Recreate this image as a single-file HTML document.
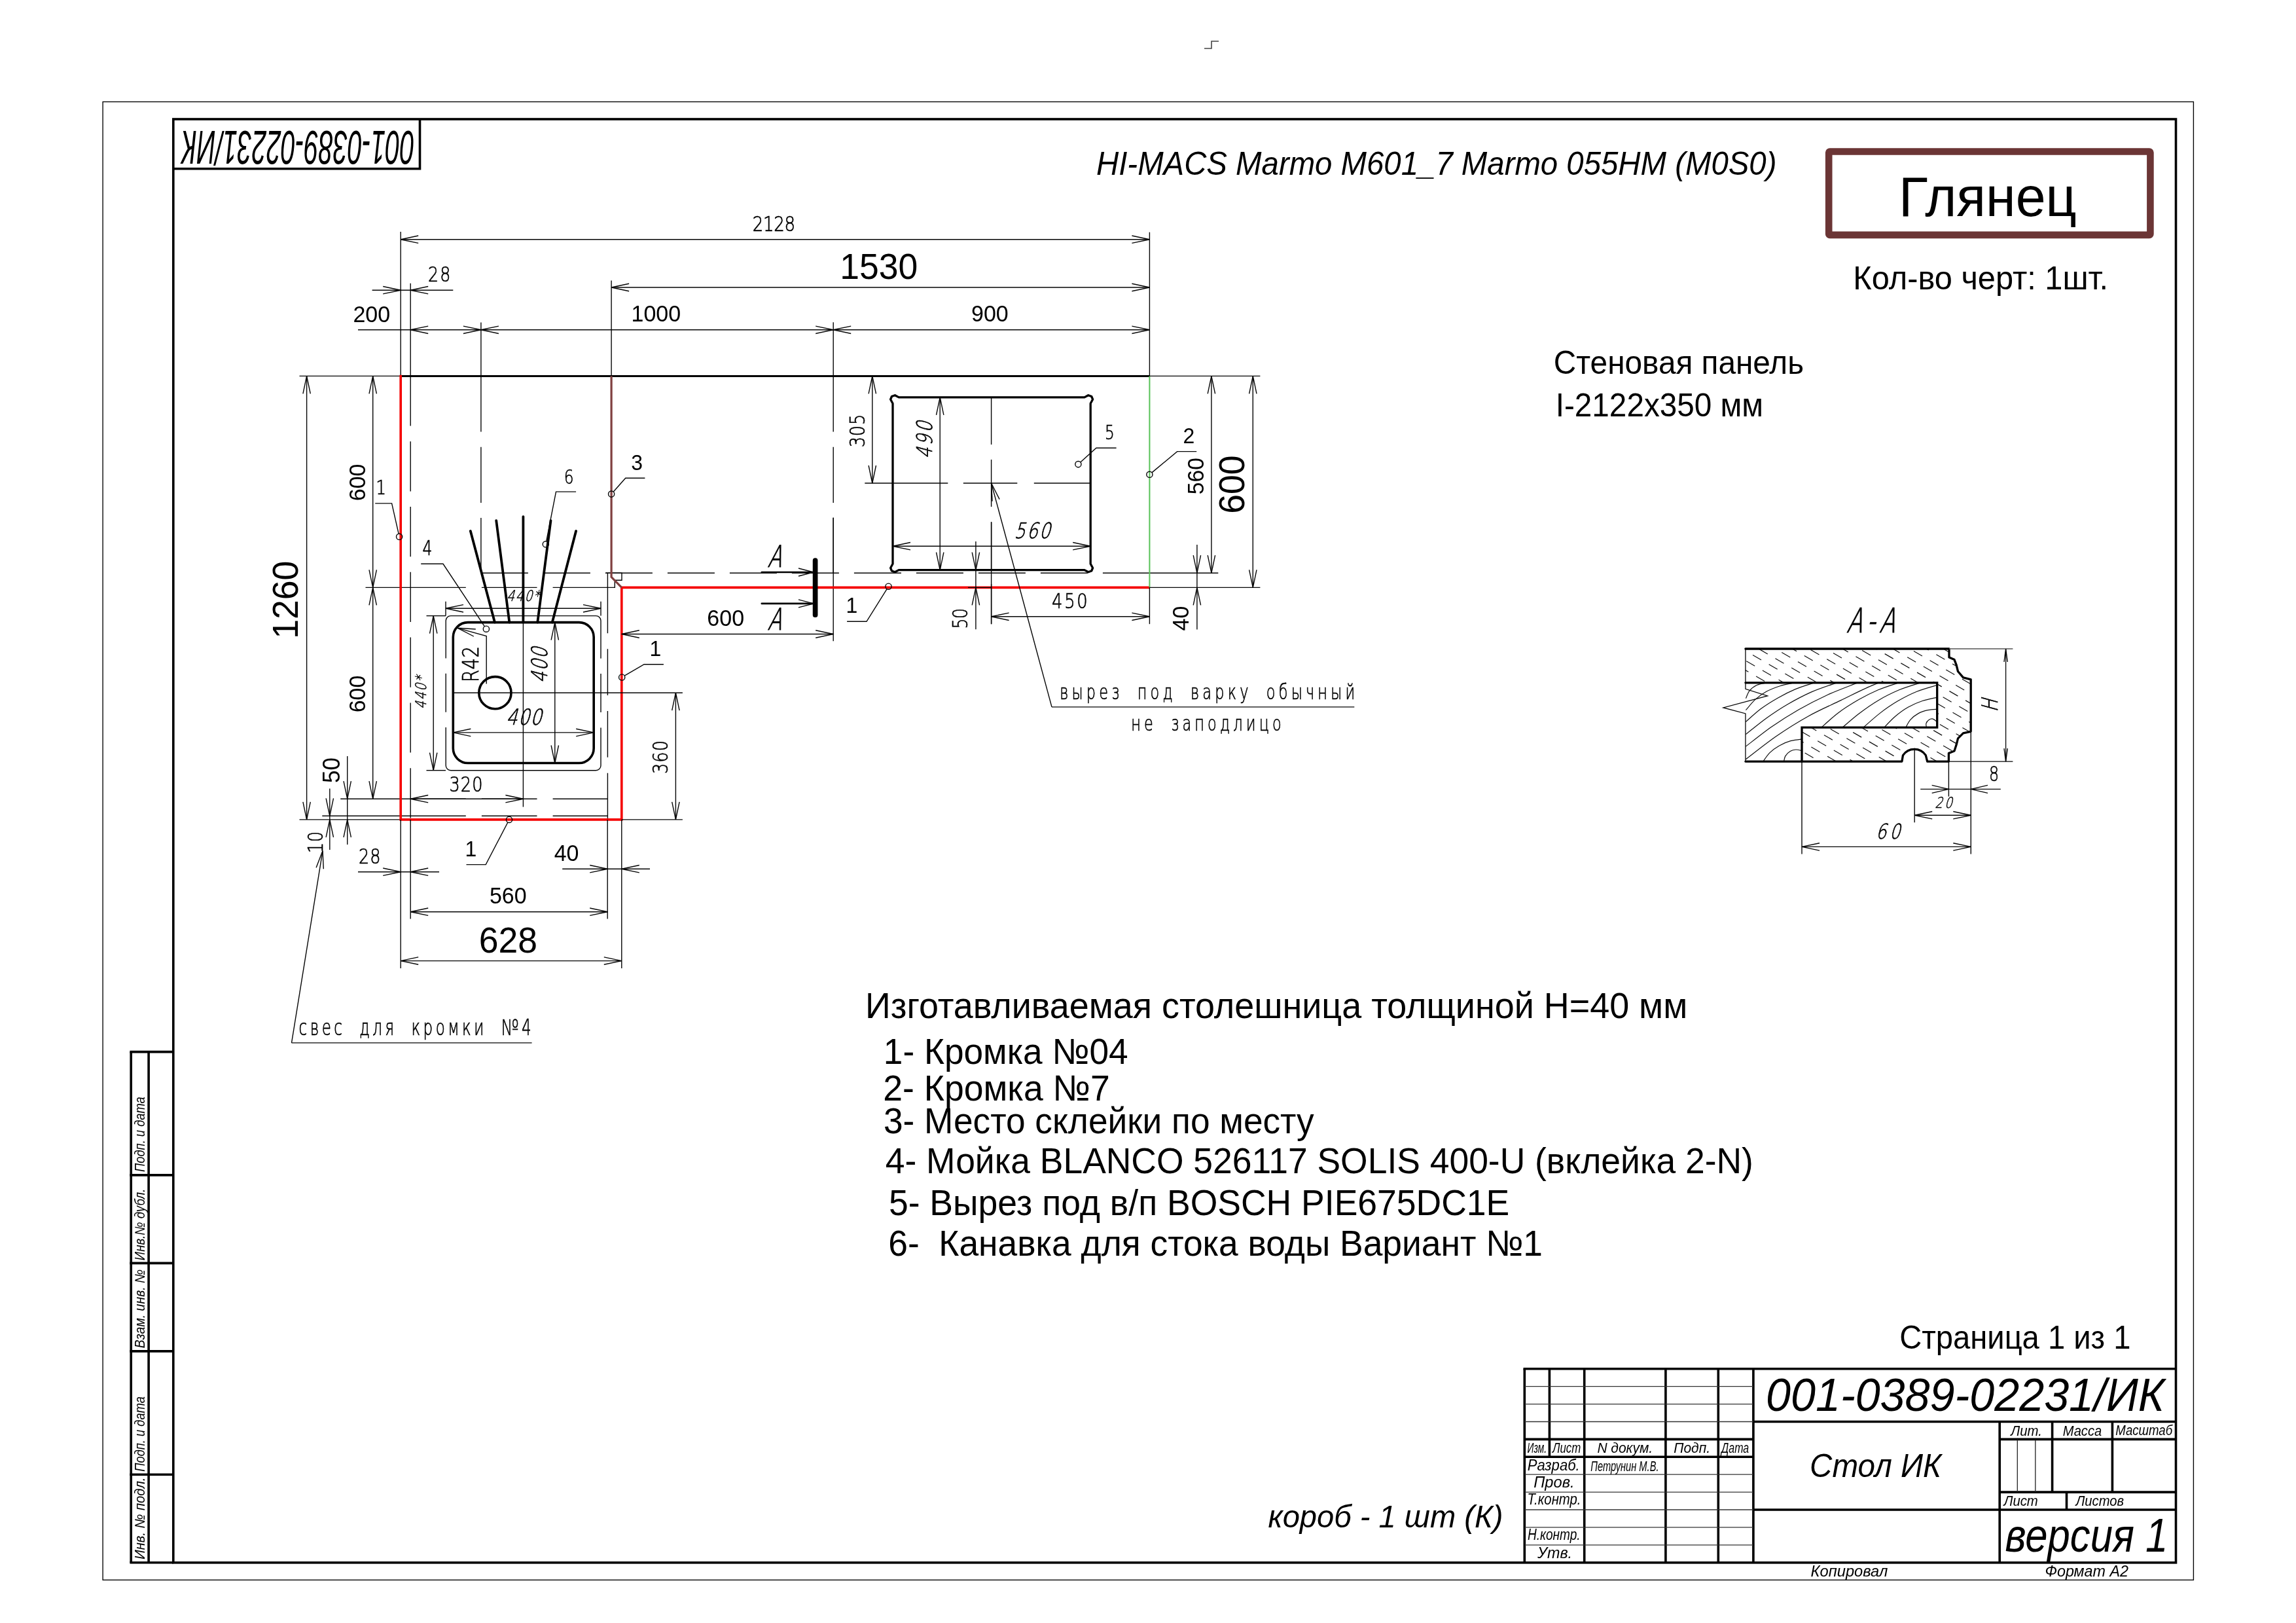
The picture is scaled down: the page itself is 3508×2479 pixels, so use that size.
<!DOCTYPE html>
<html lang="ru"><head><meta charset="utf-8"><title>001-0389-02231/ИК</title>
<style>html,body{margin:0;padding:0;background:#fff}svg{display:block;will-change:transform}</style></head>
<body>
<svg width="3508" height="2479" viewBox="0 0 3508 2479">
<rect width="3508" height="2479" fill="#fff"/>
<rect x="157.1" y="155.5" width="3194.3" height="2257.8" fill="none" stroke="#000" stroke-width="1.35"/>
<rect x="264.8" y="182" width="3059.7" height="2204.8" fill="none" stroke="#000" stroke-width="3.6"/>
<path d="M1840.0,74.0 L1851.0,74.0 L1851.0,63.0 L1862.0,63.0" fill="none" stroke="#444" stroke-width="1.6" stroke-linejoin="miter"/>
<path d="M641.5,182.0 L641.5,257.8 L264.8,257.8" fill="none" stroke="#000" stroke-width="3.6" stroke-linejoin="miter"/>
<g transform="translate(455.3,225) rotate(180)">
<text transform="translate(0.0,25.0) rotate(0)" x="0.0" text-anchor="middle" style="font-family:Liberation Sans, Arial, sans-serif;font-size:72.80px;font-style:italic;" fill="#000" textLength="355.9" lengthAdjust="spacingAndGlyphs" xml:space="preserve">001-0389-02231/ИК</text>
</g>
<line x1="200.2" y1="1606.6" x2="200.2" y2="2386.8" stroke="#000" stroke-width="3.6"/>
<line x1="227.1" y1="1606.6" x2="227.1" y2="2386.8" stroke="#000" stroke-width="3.6"/>
<line x1="198.4" y1="1606.6" x2="264.8" y2="1606.6" stroke="#000" stroke-width="3.6"/>
<line x1="198.4" y1="1794.9" x2="264.8" y2="1794.9" stroke="#000" stroke-width="3.6"/>
<line x1="198.4" y1="1929.4" x2="264.8" y2="1929.4" stroke="#000" stroke-width="3.6"/>
<line x1="198.4" y1="2063.9" x2="264.8" y2="2063.9" stroke="#000" stroke-width="3.6"/>
<line x1="198.4" y1="2252.2" x2="264.8" y2="2252.2" stroke="#000" stroke-width="3.6"/>
<line x1="198.4" y1="2386.8" x2="264.8" y2="2386.8" stroke="#000" stroke-width="3.6"/>
<text transform="translate(221.2,1789.5) rotate(-90)" x="-0.5" text-anchor="start" style="font-family:Liberation Sans, Arial, sans-serif;font-size:21.42px;font-style:italic;" fill="#000" textLength="114.7" lengthAdjust="spacingAndGlyphs" xml:space="preserve">Подп. и дата</text>
<text transform="translate(221.2,1924.6) rotate(-90)" x="-0.6" text-anchor="start" style="font-family:Liberation Sans, Arial, sans-serif;font-size:21.42px;font-style:italic;" fill="#000" textLength="109.4" lengthAdjust="spacingAndGlyphs" xml:space="preserve">Инв.№ дубл.</text>
<text transform="translate(221.2,2058.6) rotate(-90)" x="-0.6" text-anchor="start" style="font-family:Liberation Sans, Arial, sans-serif;font-size:21.42px;font-style:italic;" fill="#000" textLength="120.4" lengthAdjust="spacingAndGlyphs" xml:space="preserve">Взам. инв. №</text>
<text transform="translate(221.2,2247.3) rotate(-90)" x="-0.5" text-anchor="start" style="font-family:Liberation Sans, Arial, sans-serif;font-size:21.42px;font-style:italic;" fill="#000" textLength="114.7" lengthAdjust="spacingAndGlyphs" xml:space="preserve">Подп. и дата</text>
<text transform="translate(221.2,2381.1) rotate(-90)" x="-0.6" text-anchor="start" style="font-family:Liberation Sans, Arial, sans-serif;font-size:21.42px;font-style:italic;" fill="#000" textLength="125.1" lengthAdjust="spacingAndGlyphs" xml:space="preserve">Инв. № подл.</text>
<line x1="2327.5" y1="2090.8" x2="3324.5" y2="2090.8" stroke="#000" stroke-width="3.6"/>
<line x1="2329.3" y1="2090.8" x2="2329.3" y2="2386.7" stroke="#000" stroke-width="3.6"/>
<line x1="2367.4" y1="2090.8" x2="2367.4" y2="2225.3" stroke="#000" stroke-width="3.6"/>
<line x1="2420.7" y1="2090.8" x2="2420.7" y2="2386.7" stroke="#000" stroke-width="3.6"/>
<line x1="2544.9" y1="2090.8" x2="2544.9" y2="2386.7" stroke="#000" stroke-width="3.6"/>
<line x1="2625.3" y1="2090.8" x2="2625.3" y2="2386.7" stroke="#000" stroke-width="3.6"/>
<line x1="2678.9" y1="2090.8" x2="2678.9" y2="2386.7" stroke="#000" stroke-width="3.6"/>
<line x1="3055.2" y1="2171.5" x2="3055.2" y2="2386.7" stroke="#000" stroke-width="3.6"/>
<line x1="2329.3" y1="2117.7" x2="2678.9" y2="2117.7" stroke="#333" stroke-width="1.3"/>
<line x1="2329.3" y1="2144.6" x2="2678.9" y2="2144.6" stroke="#333" stroke-width="1.3"/>
<line x1="2329.3" y1="2171.5" x2="2678.9" y2="2171.5" stroke="#333" stroke-width="1.3"/>
<line x1="2329.3" y1="2252.2" x2="2678.9" y2="2252.2" stroke="#333" stroke-width="1.3"/>
<line x1="2329.3" y1="2279.1" x2="2678.9" y2="2279.1" stroke="#333" stroke-width="1.3"/>
<line x1="2329.3" y1="2306.0" x2="2678.9" y2="2306.0" stroke="#333" stroke-width="1.3"/>
<line x1="2329.3" y1="2332.9" x2="2678.9" y2="2332.9" stroke="#333" stroke-width="1.3"/>
<line x1="2329.3" y1="2359.8" x2="2678.9" y2="2359.8" stroke="#333" stroke-width="1.3"/>
<line x1="2329.3" y1="2198.4" x2="2678.9" y2="2198.4" stroke="#000" stroke-width="3.6"/>
<line x1="2329.3" y1="2225.3" x2="2678.9" y2="2225.3" stroke="#000" stroke-width="3.6"/>
<line x1="2678.9" y1="2171.5" x2="3324.5" y2="2171.5" stroke="#000" stroke-width="3.6"/>
<line x1="2678.9" y1="2306.0" x2="3324.5" y2="2306.0" stroke="#000" stroke-width="3.6"/>
<line x1="3055.2" y1="2198.4" x2="3324.5" y2="2198.4" stroke="#000" stroke-width="3.6"/>
<line x1="3055.2" y1="2279.1" x2="3324.5" y2="2279.1" stroke="#000" stroke-width="3.6"/>
<line x1="3135.6" y1="2171.5" x2="3135.6" y2="2279.1" stroke="#000" stroke-width="3.6"/>
<line x1="3227.4" y1="2171.5" x2="3227.4" y2="2279.1" stroke="#000" stroke-width="3.6"/>
<line x1="3157.5" y1="2279.1" x2="3157.5" y2="2306.0" stroke="#000" stroke-width="3.6"/>
<line x1="3082.3" y1="2198.4" x2="3082.3" y2="2279.1" stroke="#222" stroke-width="1.3"/>
<line x1="3109.8" y1="2198.4" x2="3109.8" y2="2279.1" stroke="#222" stroke-width="1.3"/>
<text transform="translate(2334.0,2218.6) rotate(0)" x="-0.4" text-anchor="start" style="font-family:Liberation Sans, Arial, sans-serif;font-size:21.53px;font-style:italic;" fill="#000" textLength="29.5" lengthAdjust="spacingAndGlyphs" xml:space="preserve">Изм.</text>
<text transform="translate(2371.0,2218.6) rotate(0)" x="0.9" text-anchor="start" style="font-family:Liberation Sans, Arial, sans-serif;font-size:21.53px;font-style:italic;" fill="#000" textLength="43.3" lengthAdjust="spacingAndGlyphs" xml:space="preserve">Лист</text>
<text transform="translate(2441.0,2218.6) rotate(0)" x="-0.6" text-anchor="start" style="font-family:Liberation Sans, Arial, sans-serif;font-size:21.53px;font-style:italic;" fill="#000" textLength="84.8" lengthAdjust="spacingAndGlyphs" xml:space="preserve">N докум.</text>
<text transform="translate(2557.9,2218.6) rotate(0)" x="-0.6" text-anchor="start" style="font-family:Liberation Sans, Arial, sans-serif;font-size:21.53px;font-style:italic;" fill="#000" textLength="55.7" lengthAdjust="spacingAndGlyphs" xml:space="preserve">Подп.</text>
<text transform="translate(2628.7,2218.6) rotate(0)" x="1.4" text-anchor="start" style="font-family:Liberation Sans, Arial, sans-serif;font-size:21.53px;font-style:italic;" fill="#000" textLength="42.1" lengthAdjust="spacingAndGlyphs" xml:space="preserve">Дата</text>
<text transform="translate(2334.5,2245.5) rotate(0)" x="-0.7" text-anchor="start" style="font-family:Liberation Sans, Arial, sans-serif;font-size:24.23px;font-style:italic;" fill="#000" textLength="79.9" lengthAdjust="spacingAndGlyphs" xml:space="preserve">Разраб.</text>
<text transform="translate(2430.7,2246.8) rotate(0)" x="-0.4" text-anchor="start" style="font-family:Liberation Sans, Arial, sans-serif;font-size:21.84px;font-style:italic;" fill="#000" textLength="104.2" lengthAdjust="spacingAndGlyphs" xml:space="preserve">Петрунин М.В.</text>
<text transform="translate(2343.9,2272.2) rotate(0)" x="-0.7" text-anchor="start" style="font-family:Liberation Sans, Arial, sans-serif;font-size:24.23px;font-style:italic;" fill="#000" textLength="62.4" lengthAdjust="spacingAndGlyphs" xml:space="preserve">Пров.</text>
<text transform="translate(2335.3,2298.3) rotate(0)" x="-1.8" text-anchor="start" style="font-family:Liberation Sans, Arial, sans-serif;font-size:24.23px;font-style:italic;" fill="#000" textLength="82.0" lengthAdjust="spacingAndGlyphs" xml:space="preserve">Т.контр.</text>
<text transform="translate(2334.5,2352.2) rotate(0)" x="-0.6" text-anchor="start" style="font-family:Liberation Sans, Arial, sans-serif;font-size:24.23px;font-style:italic;" fill="#000" textLength="80.7" lengthAdjust="spacingAndGlyphs" xml:space="preserve">Н.контр.</text>
<text transform="translate(2349.1,2380.1) rotate(0)" x="-0.0" text-anchor="start" style="font-family:Liberation Sans, Arial, sans-serif;font-size:24.23px;font-style:italic;" fill="#000" textLength="53.0" lengthAdjust="spacingAndGlyphs" xml:space="preserve">Утв.</text>
<text transform="translate(2767.2,2407.5) rotate(0)" x="-0.7" text-anchor="start" style="font-family:Liberation Sans, Arial, sans-serif;font-size:24.44px;font-style:italic;" fill="#000" textLength="117.9" lengthAdjust="spacingAndGlyphs" xml:space="preserve">Копировал</text>
<text transform="translate(3125.8,2407.6) rotate(0)" x="-1.4" text-anchor="start" style="font-family:Liberation Sans, Arial, sans-serif;font-size:24.44px;font-style:italic;" fill="#000" textLength="127.6" lengthAdjust="spacingAndGlyphs" xml:space="preserve">Формат А2</text>
<text transform="translate(2767.7,2255.6) rotate(0)" x="-2.6" text-anchor="start" style="font-family:Liberation Sans, Arial, sans-serif;font-size:49.47px;font-style:italic;" fill="#000" textLength="201.0" lengthAdjust="spacingAndGlyphs" xml:space="preserve">Стол ИК</text>
<text transform="translate(2701.1,2155.4) rotate(0)" x="-3.1" text-anchor="start" style="font-family:Liberation Sans, Arial, sans-serif;font-size:71.00px;font-style:italic;" fill="#000" textLength="609.1" lengthAdjust="spacingAndGlyphs" xml:space="preserve">001-0389-02231/ИК</text>
<text transform="translate(3071.2,2193.4) rotate(0)" x="1.1" text-anchor="start" style="font-family:Liberation Sans, Arial, sans-serif;font-size:21.53px;font-style:italic;" fill="#000" textLength="47.6" lengthAdjust="spacingAndGlyphs" xml:space="preserve">Лит.</text>
<text transform="translate(3152.3,2193.4) rotate(0)" x="-0.6" text-anchor="start" style="font-family:Liberation Sans, Arial, sans-serif;font-size:21.53px;font-style:italic;" fill="#000" textLength="59.4" lengthAdjust="spacingAndGlyphs" xml:space="preserve">Масса</text>
<text transform="translate(3232.8,2191.7) rotate(0)" x="-0.6" text-anchor="start" style="font-family:Liberation Sans, Arial, sans-serif;font-size:21.53px;font-style:italic;" fill="#000" textLength="87.0" lengthAdjust="spacingAndGlyphs" xml:space="preserve">Масштаб</text>
<text transform="translate(3060.4,2299.9) rotate(0)" x="1.1" text-anchor="start" style="font-family:Liberation Sans, Arial, sans-serif;font-size:21.53px;font-style:italic;" fill="#000" textLength="52.3" lengthAdjust="spacingAndGlyphs" xml:space="preserve">Лист</text>
<text transform="translate(3170.4,2299.9) rotate(0)" x="1.1" text-anchor="start" style="font-family:Liberation Sans, Arial, sans-serif;font-size:21.53px;font-style:italic;" fill="#000" textLength="73.5" lengthAdjust="spacingAndGlyphs" xml:space="preserve">Листов</text>
<text transform="translate(3064.6,2370.0) rotate(0)" x="-1.2" text-anchor="start" style="font-family:Liberation Sans, Arial, sans-serif;font-size:71.76px;font-style:italic;" fill="#000" textLength="248.9" lengthAdjust="spacingAndGlyphs" xml:space="preserve">версия 1</text>
<text transform="translate(2904.6,2059.9) rotate(0)" x="-2.4" text-anchor="start" style="font-family:Liberation Sans, Arial, sans-serif;font-size:49.02px;" fill="#000" textLength="353.3" lengthAdjust="spacingAndGlyphs" xml:space="preserve">Страница 1 из 1</text>
<line x1="612.2" y1="354.0" x2="612.2" y2="574.4" stroke="#050505" stroke-width="1.4"/>
<line x1="627.2" y1="432.7" x2="627.2" y2="574.4" stroke="#050505" stroke-width="1.4"/>
<line x1="734.9" y1="492.5" x2="734.9" y2="574.4" stroke="#050505" stroke-width="1.4"/>
<line x1="934.1" y1="428.5" x2="934.1" y2="574.4" stroke="#050505" stroke-width="1.4"/>
<line x1="1273.2" y1="492.3" x2="1273.2" y2="574.4" stroke="#050505" stroke-width="1.4"/>
<line x1="1756.4" y1="354.7" x2="1756.4" y2="574.4" stroke="#050505" stroke-width="1.4"/>
<line x1="612.2" y1="365.7" x2="1756.4" y2="365.7" stroke="#050505" stroke-width="1.4"/>
<path d="M639.2,360.0 L612.2,365.7 L639.2,371.4" fill="none" stroke="#050505" stroke-width="1.4" stroke-linejoin="miter"/>
<path d="M1729.4,371.4 L1756.4,365.7 L1729.4,360.0" fill="none" stroke="#050505" stroke-width="1.4" stroke-linejoin="miter"/>
<text transform="translate(1149.8,353.3) rotate(0) scale(0.8,1)" text-anchor="start" style="font-family:DejaVu Sans, Liberation Sans, sans-serif;font-weight:200;font-size:32.5px;word-spacing:0.0px" fill="#000" stroke="#000" stroke-width="0.72" textLength="81.5" lengthAdjust="spacing" xml:space="preserve">2128</text>
<line x1="934.1" y1="439.0" x2="1756.4" y2="439.0" stroke="#050505" stroke-width="1.4"/>
<path d="M961.1,433.3 L934.1,439.0 L961.1,444.7" fill="none" stroke="#050505" stroke-width="1.4" stroke-linejoin="miter"/>
<path d="M1729.4,444.7 L1756.4,439.0 L1729.4,433.3" fill="none" stroke="#050505" stroke-width="1.4" stroke-linejoin="miter"/>
<text transform="translate(1342.7,426.1) rotate(0)" x="0.0" text-anchor="middle" style="font-family:Liberation Sans, Arial, sans-serif;font-size:55.64px;" fill="#000" textLength="119.0" lengthAdjust="spacingAndGlyphs" xml:space="preserve">1530</text>
<line x1="568.6" y1="443.2" x2="692.3" y2="443.2" stroke="#050505" stroke-width="1.4"/>
<path d="M585.2,448.9 L612.2,443.2 L585.2,437.5" fill="none" stroke="#050505" stroke-width="1.4" stroke-linejoin="miter"/>
<path d="M654.2,437.5 L627.2,443.2 L654.2,448.9" fill="none" stroke="#050505" stroke-width="1.4" stroke-linejoin="miter"/>
<text transform="translate(654.0,430.3) rotate(0) scale(0.8,1)" text-anchor="start" style="font-family:DejaVu Sans, Liberation Sans, sans-serif;font-weight:200;font-size:31.6px;word-spacing:0.0px" fill="#000" stroke="#000" stroke-width="0.71" textLength="42.8" lengthAdjust="spacing" xml:space="preserve">28</text>
<line x1="547.0" y1="503.8" x2="1756.4" y2="503.8" stroke="#050505" stroke-width="1.4"/>
<path d="M654.2,498.1 L627.2,503.8 L654.2,509.5" fill="none" stroke="#050505" stroke-width="1.4" stroke-linejoin="miter"/>
<path d="M707.9,509.5 L734.9,503.8 L707.9,498.1" fill="none" stroke="#050505" stroke-width="1.4" stroke-linejoin="miter"/>
<path d="M761.9,498.1 L734.9,503.8 L761.9,509.5" fill="none" stroke="#050505" stroke-width="1.4" stroke-linejoin="miter"/>
<path d="M1246.2,509.5 L1273.2,503.8 L1246.2,498.1" fill="none" stroke="#050505" stroke-width="1.4" stroke-linejoin="miter"/>
<path d="M1300.2,498.1 L1273.2,503.8 L1300.2,509.5" fill="none" stroke="#050505" stroke-width="1.4" stroke-linejoin="miter"/>
<path d="M1729.4,509.5 L1756.4,503.8 L1729.4,498.1" fill="none" stroke="#050505" stroke-width="1.4" stroke-linejoin="miter"/>
<text transform="translate(567.8,492.0) rotate(0)" x="0.0" text-anchor="middle" style="font-family:Liberation Sans, Arial, sans-serif;font-size:35.36px;" fill="#000" textLength="56.7" lengthAdjust="spacingAndGlyphs" xml:space="preserve">200</text>
<text transform="translate(1002.3,491.0) rotate(0)" x="0.0" text-anchor="middle" style="font-family:Liberation Sans, Arial, sans-serif;font-size:35.36px;" fill="#000" textLength="75.6" lengthAdjust="spacingAndGlyphs" xml:space="preserve">1000</text>
<text transform="translate(1512.4,491.0) rotate(0)" x="0.0" text-anchor="middle" style="font-family:Liberation Sans, Arial, sans-serif;font-size:35.36px;" fill="#000" textLength="56.7" lengthAdjust="spacingAndGlyphs" xml:space="preserve">900</text>
<line x1="457.5" y1="574.4" x2="612.2" y2="574.4" stroke="#050505" stroke-width="1.4"/>
<line x1="457.5" y1="1251.9" x2="612.2" y2="1251.9" stroke="#050505" stroke-width="1.4"/>
<line x1="468.6" y1="574.4" x2="468.6" y2="1251.9" stroke="#050505" stroke-width="1.4"/>
<path d="M474.3,601.4 L468.6,574.4 L462.9,601.4" fill="none" stroke="#050505" stroke-width="1.4" stroke-linejoin="miter"/>
<path d="M462.9,1224.9 L468.6,1251.9 L474.3,1224.9" fill="none" stroke="#050505" stroke-width="1.4" stroke-linejoin="miter"/>
<line x1="558.5" y1="897.4" x2="627.2" y2="897.4" stroke="#050505" stroke-width="1.4"/>
<line x1="569.7" y1="574.4" x2="569.7" y2="1220.2" stroke="#050505" stroke-width="1.4"/>
<path d="M575.4,601.4 L569.7,574.4 L564.0,601.4" fill="none" stroke="#050505" stroke-width="1.4" stroke-linejoin="miter"/>
<path d="M564.0,870.4 L569.7,897.4 L575.4,870.4" fill="none" stroke="#050505" stroke-width="1.4" stroke-linejoin="miter"/>
<path d="M575.4,924.4 L569.7,897.4 L564.0,924.4" fill="none" stroke="#050505" stroke-width="1.4" stroke-linejoin="miter"/>
<path d="M564.0,1193.2 L569.7,1220.2 L575.4,1193.2" fill="none" stroke="#050505" stroke-width="1.4" stroke-linejoin="miter"/>
<text transform="translate(454.5,916.3) rotate(-90)" x="0.0" text-anchor="middle" style="font-family:Liberation Sans, Arial, sans-serif;font-size:55.64px;" fill="#000" textLength="119.0" lengthAdjust="spacingAndGlyphs" xml:space="preserve">1260</text>
<text transform="translate(557.5,736.9) rotate(-90)" x="0.0" text-anchor="middle" style="font-family:Liberation Sans, Arial, sans-serif;font-size:35.36px;" fill="#000" textLength="56.7" lengthAdjust="spacingAndGlyphs" xml:space="preserve">600</text>
<text transform="translate(557.5,1060.0) rotate(-90)" x="0.0" text-anchor="middle" style="font-family:Liberation Sans, Arial, sans-serif;font-size:35.36px;" fill="#000" textLength="56.7" lengthAdjust="spacingAndGlyphs" xml:space="preserve">600</text>
<line x1="520.2" y1="1220.2" x2="627.2" y2="1220.2" stroke="#050505" stroke-width="1.4"/>
<line x1="492.3" y1="1246.3" x2="627.2" y2="1246.3" stroke="#050505" stroke-width="1.4"/>
<line x1="530.7" y1="1155.0" x2="530.7" y2="1289.9" stroke="#050505" stroke-width="1.4"/>
<path d="M525.0,1193.2 L530.7,1220.2 L536.4,1193.2" fill="none" stroke="#050505" stroke-width="1.4" stroke-linejoin="miter"/>
<path d="M536.4,1278.9 L530.7,1251.9 L525.0,1278.9" fill="none" stroke="#050505" stroke-width="1.4" stroke-linejoin="miter"/>
<line x1="503.8" y1="1204.5" x2="503.8" y2="1297.9" stroke="#050505" stroke-width="1.4"/>
<path d="M498.1,1219.3 L503.8,1246.3 L509.5,1219.3" fill="none" stroke="#050505" stroke-width="1.4" stroke-linejoin="miter"/>
<path d="M509.5,1278.9 L503.8,1251.9 L498.1,1278.9" fill="none" stroke="#050505" stroke-width="1.4" stroke-linejoin="miter"/>
<text transform="translate(519.3,1176.5) rotate(-90)" x="0.0" text-anchor="middle" style="font-family:Liberation Sans, Arial, sans-serif;font-size:36.40px;" fill="#000" textLength="38.9" lengthAdjust="spacingAndGlyphs" xml:space="preserve">50</text>
<text transform="translate(492.5,1286.5) rotate(-90) scale(0.8,1)" text-anchor="middle" style="font-family:DejaVu Sans, Liberation Sans, sans-serif;font-weight:200;font-size:31.6px;word-spacing:0.0px" fill="#000" stroke="#000" stroke-width="0.71" textLength="41.2" lengthAdjust="spacing" xml:space="preserve">10</text>
<line x1="493.0" y1="1299.6" x2="445.5" y2="1592.9" stroke="#050505" stroke-width="1.4"/>
<line x1="445.5" y1="1592.9" x2="812.6" y2="1592.9" stroke="#050505" stroke-width="1.4"/>
<path d="M494.3,1327.2 L493.0,1299.6 L483.1,1325.3" fill="none" stroke="#050505" stroke-width="1.4" stroke-linejoin="miter"/>
<text transform="translate(456.6,1580.5) rotate(0) scale(0.7,1)" text-anchor="start" style="font-family:DejaVu Sans, Liberation Sans, sans-serif;font-weight:200;font-size:32.9px;word-spacing:14.3px" fill="#000" stroke="#000" stroke-width="0.73" textLength="507.1" lengthAdjust="spacing" xml:space="preserve">свес для кромки №4</text>
<line x1="627.2" y1="574.4" x2="627.2" y2="1251.9" stroke="#050505" stroke-width="1.4" stroke-dasharray="76.2 23.6"/>
<line x1="734.9" y1="574.4" x2="734.9" y2="875.2" stroke="#050505" stroke-width="1.4" stroke-dasharray="85.2 23.1"/>
<line x1="734.9" y1="875.2" x2="1756.4" y2="875.2" stroke="#050505" stroke-width="1.4" stroke-dasharray="72 23"/>
<line x1="1756.4" y1="875.2" x2="1861.3" y2="875.2" stroke="#050505" stroke-width="1.4"/>
<line x1="627.2" y1="897.4" x2="929.0" y2="897.4" stroke="#050505" stroke-width="1.4" stroke-dasharray="84.6 24.1"/>
<line x1="928.4" y1="875.2" x2="928.4" y2="897.0" stroke="#050505" stroke-width="1.4"/>
<line x1="928.4" y1="896.6" x2="928.4" y2="1251.9" stroke="#050505" stroke-width="1.4" stroke-dasharray="70.7 24"/>
<line x1="627.2" y1="1220.2" x2="928.2" y2="1220.2" stroke="#050505" stroke-width="1.4" stroke-dasharray="84.6 24.1"/>
<line x1="627.2" y1="1246.3" x2="928.2" y2="1246.3" stroke="#050505" stroke-width="1.4" stroke-dasharray="84.6 24.1"/>
<line x1="1273.2" y1="574.4" x2="1273.2" y2="875.2" stroke="#050505" stroke-width="1.4" stroke-dasharray="85.2 23.1"/>
<line x1="1273.2" y1="790.5" x2="1273.2" y2="979.3" stroke="#050505" stroke-width="1.4"/>
<path d="M925.7,875.2 L950.0,875.2 L950.0,886.3 L939.3,886.3 L939.3,897.4 L929.0,897.4" fill="none" stroke="#050505" stroke-width="1.4" stroke-linejoin="miter"/>
<line x1="612.2" y1="574.4" x2="1756.4" y2="574.4" stroke="#000" stroke-width="3.0"/>
<path d="M612.2,572.8 L612.2,1251.9 L949.8,1251.9 L949.8,897.4 L1756.4,897.4" fill="none" stroke="#f50000" stroke-width="3.6" stroke-linejoin="miter"/>
<path d="M934.1,574.4 L934.1,881.3 L949.8,897.4" fill="none" stroke="#804040" stroke-width="3.2" stroke-linejoin="miter"/>
<line x1="1756.4" y1="574.4" x2="1756.4" y2="897.4" stroke="#57c257" stroke-width="2.0"/>
<line x1="718.8" y1="811.1" x2="755.9" y2="950.6" stroke="#000" stroke-width="3.8" stroke-linecap="round"/>
<line x1="758.2" y1="795.1" x2="778.3" y2="950.6" stroke="#000" stroke-width="3.8" stroke-linecap="round"/>
<line x1="799.4" y1="789.1" x2="799.4" y2="950.6" stroke="#000" stroke-width="3.8" stroke-linecap="round"/>
<line x1="841.5" y1="795.1" x2="821.3" y2="950.6" stroke="#000" stroke-width="3.8" stroke-linecap="round"/>
<line x1="880.1" y1="811.1" x2="843.8" y2="950.6" stroke="#000" stroke-width="3.8" stroke-linecap="round"/>
<rect x="692.3" y="950.6" width="214.9" height="214.9" rx="22.5" fill="none" stroke="#000" stroke-width="3.6"/>
<rect x="681.2" y="940.6" width="236.8" height="236.1" rx="7.5" fill="none" stroke="#050505" stroke-width="1.4" stroke-dasharray="291.2 23.3 59 23.3 361.2 23.3 59 23.3 69.4"/>
<circle cx="756.4" cy="1058.2" r="24.6" fill="none" stroke="#000" stroke-width="3.6"/>
<line x1="799.4" y1="950.6" x2="799.4" y2="1232.4" stroke="#050505" stroke-width="1.4"/>
<line x1="692.3" y1="1058.2" x2="1042.9" y2="1058.2" stroke="#050505" stroke-width="1.4"/>
<line x1="681.0" y1="918.8" x2="681.0" y2="940.6" stroke="#050505" stroke-width="1.4"/>
<line x1="918.0" y1="918.8" x2="918.0" y2="940.6" stroke="#050505" stroke-width="1.4"/>
<line x1="681.0" y1="929.3" x2="918.0" y2="929.3" stroke="#050505" stroke-width="1.4"/>
<path d="M708.0,923.6 L681.0,929.3 L708.0,935.0" fill="none" stroke="#050505" stroke-width="1.4" stroke-linejoin="miter"/>
<path d="M891.0,935.0 L918.0,929.3 L891.0,923.6" fill="none" stroke="#050505" stroke-width="1.4" stroke-linejoin="miter"/>
<text transform="translate(774.2,917.5) rotate(0) skewX(-15) scale(0.8,1)" text-anchor="start" style="font-family:DejaVu Sans, Liberation Sans, sans-serif;font-weight:200;font-size:22.8px;word-spacing:0.0px" fill="#000" stroke="#000" stroke-width="0.57" textLength="62.5" lengthAdjust="spacing" xml:space="preserve">440*</text>
<line x1="651.5" y1="940.6" x2="681.0" y2="940.6" stroke="#050505" stroke-width="1.4"/>
<line x1="651.5" y1="1176.7" x2="681.0" y2="1176.7" stroke="#050505" stroke-width="1.4"/>
<line x1="662.2" y1="940.6" x2="662.2" y2="1176.7" stroke="#050505" stroke-width="1.4"/>
<path d="M667.9,967.6 L662.2,940.6 L656.5,967.6" fill="none" stroke="#050505" stroke-width="1.4" stroke-linejoin="miter"/>
<path d="M656.5,1149.7 L662.2,1176.7 L667.9,1149.7" fill="none" stroke="#050505" stroke-width="1.4" stroke-linejoin="miter"/>
<text transform="translate(650.5,1058.0) rotate(-90) skewX(-15) scale(0.8,1)" text-anchor="middle" style="font-family:DejaVu Sans, Liberation Sans, sans-serif;font-weight:200;font-size:22.8px;word-spacing:0.0px" fill="#000" stroke="#000" stroke-width="0.57" textLength="62.5" lengthAdjust="spacing" xml:space="preserve">440*</text>
<line x1="847.8" y1="950.6" x2="847.8" y2="1165.5" stroke="#050505" stroke-width="1.4"/>
<path d="M853.5,977.6 L847.8,950.6 L842.1,977.6" fill="none" stroke="#050505" stroke-width="1.4" stroke-linejoin="miter"/>
<path d="M842.1,1138.5 L847.8,1165.5 L853.5,1138.5" fill="none" stroke="#050505" stroke-width="1.4" stroke-linejoin="miter"/>
<text transform="translate(835.5,1016.3) rotate(-90) skewX(-15) scale(0.8,1)" text-anchor="middle" style="font-family:DejaVu Sans, Liberation Sans, sans-serif;font-weight:200;font-size:33.5px;word-spacing:0.0px" fill="#000" stroke="#000" stroke-width="0.74" textLength="67.5" lengthAdjust="spacing" xml:space="preserve">400</text>
<line x1="692.3" y1="1118.9" x2="907.2" y2="1118.9" stroke="#050505" stroke-width="1.4"/>
<path d="M719.3,1113.2 L692.3,1118.9 L719.3,1124.6" fill="none" stroke="#050505" stroke-width="1.4" stroke-linejoin="miter"/>
<path d="M880.2,1124.6 L907.2,1118.9 L880.2,1113.2" fill="none" stroke="#050505" stroke-width="1.4" stroke-linejoin="miter"/>
<text transform="translate(773.3,1106.5) rotate(0) skewX(-15) scale(0.8,1)" text-anchor="start" style="font-family:DejaVu Sans, Liberation Sans, sans-serif;font-weight:200;font-size:33.5px;word-spacing:0.0px" fill="#000" stroke="#000" stroke-width="0.74" textLength="67.5" lengthAdjust="spacing" xml:space="preserve">400</text>
<line x1="627.2" y1="1220.2" x2="799.4" y2="1220.2" stroke="#050505" stroke-width="1.4"/>
<path d="M654.2,1214.5 L627.2,1220.2 L654.2,1225.9" fill="none" stroke="#050505" stroke-width="1.4" stroke-linejoin="miter"/>
<path d="M772.4,1225.9 L799.4,1220.2 L772.4,1214.5" fill="none" stroke="#050505" stroke-width="1.4" stroke-linejoin="miter"/>
<text transform="translate(686.4,1209.0) rotate(0) scale(0.8,1)" text-anchor="start" style="font-family:DejaVu Sans, Liberation Sans, sans-serif;font-weight:200;font-size:32.0px;word-spacing:0.0px" fill="#000" stroke="#000" stroke-width="0.71" textLength="63.8" lengthAdjust="spacing" xml:space="preserve">320</text>
<line x1="949.8" y1="1251.9" x2="1042.9" y2="1251.9" stroke="#050505" stroke-width="1.4"/>
<line x1="1032.4" y1="1058.2" x2="1032.4" y2="1251.9" stroke="#050505" stroke-width="1.4"/>
<path d="M1038.1,1085.2 L1032.4,1058.2 L1026.7,1085.2" fill="none" stroke="#050505" stroke-width="1.4" stroke-linejoin="miter"/>
<path d="M1026.7,1224.9 L1032.4,1251.9 L1038.1,1224.9" fill="none" stroke="#050505" stroke-width="1.4" stroke-linejoin="miter"/>
<text transform="translate(1019.5,1156.5) rotate(-90) scale(0.8,1)" text-anchor="middle" style="font-family:DejaVu Sans, Liberation Sans, sans-serif;font-weight:200;font-size:32.0px;word-spacing:0.0px" fill="#000" stroke="#000" stroke-width="0.71" textLength="63.8" lengthAdjust="spacing" xml:space="preserve">360</text>
<path d="M699.3,959.3 L743.2,971.5 L743.2,1044.6" fill="none" stroke="#050505" stroke-width="1.4" stroke-linejoin="miter"/>
<path d="M726.8,961.0 L699.3,959.3 L723.8,972.0" fill="none" stroke="#050505" stroke-width="1.4" stroke-linejoin="miter"/>
<text transform="translate(731.0,1014.5) rotate(-90) scale(0.8,1)" text-anchor="middle" style="font-family:DejaVu Sans, Liberation Sans, sans-serif;font-weight:200;font-size:34.3px;word-spacing:0.0px" fill="#000" stroke="#000" stroke-width="0.75" textLength="68.8" lengthAdjust="spacing" xml:space="preserve">R42</text>
<line x1="612.2" y1="1251.9" x2="612.2" y2="1479.0" stroke="#050505" stroke-width="1.4"/>
<line x1="949.8" y1="1251.9" x2="949.8" y2="1479.0" stroke="#050505" stroke-width="1.4"/>
<line x1="627.2" y1="1251.9" x2="627.2" y2="1403.5" stroke="#050505" stroke-width="1.4"/>
<line x1="928.2" y1="1251.9" x2="928.2" y2="1403.5" stroke="#050505" stroke-width="1.4"/>
<line x1="547.0" y1="1331.7" x2="671.0" y2="1331.7" stroke="#050505" stroke-width="1.4"/>
<path d="M585.2,1337.4 L612.2,1331.7 L585.2,1326.0" fill="none" stroke="#050505" stroke-width="1.4" stroke-linejoin="miter"/>
<path d="M654.2,1326.0 L627.2,1331.7 L654.2,1337.4" fill="none" stroke="#050505" stroke-width="1.4" stroke-linejoin="miter"/>
<text transform="translate(548.0,1318.8) rotate(0) scale(0.8,1)" text-anchor="start" style="font-family:DejaVu Sans, Liberation Sans, sans-serif;font-weight:200;font-size:32.0px;word-spacing:0.0px" fill="#000" stroke="#000" stroke-width="0.71" textLength="41.9" lengthAdjust="spacing" xml:space="preserve">28</text>
<line x1="859.2" y1="1327.2" x2="993.0" y2="1327.2" stroke="#050505" stroke-width="1.4"/>
<path d="M901.2,1332.9 L928.2,1327.2 L901.2,1321.5" fill="none" stroke="#050505" stroke-width="1.4" stroke-linejoin="miter"/>
<path d="M976.8,1321.5 L949.8,1327.2 L976.8,1332.9" fill="none" stroke="#050505" stroke-width="1.4" stroke-linejoin="miter"/>
<text transform="translate(865.6,1315.3) rotate(0)" x="0.0" text-anchor="middle" style="font-family:Liberation Sans, Arial, sans-serif;font-size:35.36px;" fill="#000" textLength="37.8" lengthAdjust="spacingAndGlyphs" xml:space="preserve">40</text>
<line x1="627.2" y1="1392.7" x2="928.2" y2="1392.7" stroke="#050505" stroke-width="1.4"/>
<path d="M654.2,1387.0 L627.2,1392.7 L654.2,1398.4" fill="none" stroke="#050505" stroke-width="1.4" stroke-linejoin="miter"/>
<path d="M901.2,1398.4 L928.2,1392.7 L901.2,1387.0" fill="none" stroke="#050505" stroke-width="1.4" stroke-linejoin="miter"/>
<text transform="translate(776.3,1379.8) rotate(0)" x="0.0" text-anchor="middle" style="font-family:Liberation Sans, Arial, sans-serif;font-size:35.36px;" fill="#000" textLength="56.7" lengthAdjust="spacingAndGlyphs" xml:space="preserve">560</text>
<line x1="612.2" y1="1467.6" x2="949.8" y2="1467.6" stroke="#050505" stroke-width="1.4"/>
<path d="M639.2,1461.9 L612.2,1467.6 L639.2,1473.3" fill="none" stroke="#050505" stroke-width="1.4" stroke-linejoin="miter"/>
<path d="M922.8,1473.3 L949.8,1467.6 L922.8,1461.9" fill="none" stroke="#050505" stroke-width="1.4" stroke-linejoin="miter"/>
<text transform="translate(776.3,1454.7) rotate(0)" x="0.0" text-anchor="middle" style="font-family:Liberation Sans, Arial, sans-serif;font-size:55.64px;" fill="#000" textLength="89.3" lengthAdjust="spacingAndGlyphs" xml:space="preserve">628</text>
<line x1="949.8" y1="968.5" x2="1273.2" y2="968.5" stroke="#050505" stroke-width="1.4"/>
<path d="M976.8,962.8 L949.8,968.5 L976.8,974.2" fill="none" stroke="#050505" stroke-width="1.4" stroke-linejoin="miter"/>
<path d="M1246.2,974.2 L1273.2,968.5 L1246.2,962.8" fill="none" stroke="#050505" stroke-width="1.4" stroke-linejoin="miter"/>
<text transform="translate(1108.7,955.6) rotate(0)" x="0.0" text-anchor="middle" style="font-family:Liberation Sans, Arial, sans-serif;font-size:35.36px;" fill="#000" textLength="56.7" lengthAdjust="spacingAndGlyphs" xml:space="preserve">600</text>
<circle cx="610.1" cy="819.8" r="4.6" fill="none" stroke="#050505" stroke-width="1.4"/>
<path d="M609.1,815.3 L598.6,768.9 L573.2,768.9" fill="none" stroke="#050505" stroke-width="1.4" stroke-linejoin="miter"/>
<text transform="translate(574.2,755.3) rotate(0) scale(0.8,1)" text-anchor="start" style="font-family:DejaVu Sans, Liberation Sans, sans-serif;font-weight:200;font-size:31.0px;word-spacing:0.0px" fill="#000" stroke="#000" stroke-width="0.7" xml:space="preserve">1</text>
<circle cx="742.9" cy="960.7" r="4.6" fill="none" stroke="#050505" stroke-width="1.4"/>
<path d="M740.4,956.9 L677.0,861.3 L643.2,861.3" fill="none" stroke="#050505" stroke-width="1.4" stroke-linejoin="miter"/>
<text transform="translate(645.6,848.4) rotate(0) scale(0.75,1)" text-anchor="start" style="font-family:DejaVu Sans, Liberation Sans, sans-serif;font-weight:200;font-size:31.1px;word-spacing:0.0px" fill="#000" stroke="#000" stroke-width="0.7" xml:space="preserve">4</text>
<circle cx="833.8" cy="831.3" r="4.6" fill="none" stroke="#050505" stroke-width="1.4"/>
<path d="M834.7,826.8 L849.5,751.1 L880.1,751.1" fill="none" stroke="#050505" stroke-width="1.4" stroke-linejoin="miter"/>
<text transform="translate(861.7,738.6) rotate(0) scale(0.75,1)" text-anchor="start" style="font-family:DejaVu Sans, Liberation Sans, sans-serif;font-weight:200;font-size:31.0px;word-spacing:0.0px" fill="#000" stroke="#000" stroke-width="0.7" xml:space="preserve">6</text>
<circle cx="934.1" cy="754.6" r="4.6" fill="none" stroke="#050505" stroke-width="1.4"/>
<path d="M937.1,751.2 L955.7,730.2 L985.4,730.2" fill="none" stroke="#050505" stroke-width="1.4" stroke-linejoin="miter"/>
<text transform="translate(973.2,717.7) rotate(0)" x="0.0" text-anchor="middle" style="font-family:Liberation Sans, Arial, sans-serif;font-size:33.28px;" fill="#000" textLength="17.8" lengthAdjust="spacingAndGlyphs" xml:space="preserve">3</text>
<circle cx="950.2" cy="1034.5" r="4.6" fill="none" stroke="#050505" stroke-width="1.4"/>
<path d="M954.2,1032.2 L984.1,1014.7 L1013.9,1014.7" fill="none" stroke="#050505" stroke-width="1.4" stroke-linejoin="miter"/>
<text transform="translate(1001.5,1001.9) rotate(0)" x="0.0" text-anchor="middle" style="font-family:Liberation Sans, Arial, sans-serif;font-size:33.28px;" fill="#000" textLength="17.8" lengthAdjust="spacingAndGlyphs" xml:space="preserve">1</text>
<circle cx="778.0" cy="1251.9" r="4.6" fill="none" stroke="#050505" stroke-width="1.4"/>
<path d="M775.9,1256.0 L742.2,1320.6 L712.5,1320.6" fill="none" stroke="#050505" stroke-width="1.4" stroke-linejoin="miter"/>
<text transform="translate(719.5,1308.4) rotate(0)" x="0.0" text-anchor="middle" style="font-family:Liberation Sans, Arial, sans-serif;font-size:33.28px;" fill="#000" textLength="17.8" lengthAdjust="spacingAndGlyphs" xml:space="preserve">1</text>
<circle cx="1357.5" cy="895.7" r="4.6" fill="none" stroke="#050505" stroke-width="1.4"/>
<path d="M1355.1,899.6 L1324.0,949.3 L1294.1,949.3" fill="none" stroke="#050505" stroke-width="1.4" stroke-linejoin="miter"/>
<text transform="translate(1301.4,936.1) rotate(0)" x="0.0" text-anchor="middle" style="font-family:Liberation Sans, Arial, sans-serif;font-size:33.28px;" fill="#000" textLength="17.8" lengthAdjust="spacingAndGlyphs" xml:space="preserve">1</text>
<circle cx="1647.4" cy="709.1" r="4.6" fill="none" stroke="#050505" stroke-width="1.4"/>
<path d="M1650.8,706.0 L1674.9,684.3 L1705.6,684.3" fill="none" stroke="#050505" stroke-width="1.4" stroke-linejoin="miter"/>
<text transform="translate(1688.0,671.0) rotate(0) scale(0.75,1)" text-anchor="start" style="font-family:DejaVu Sans, Liberation Sans, sans-serif;font-weight:200;font-size:31.0px;word-spacing:0.0px" fill="#000" stroke="#000" stroke-width="0.7" xml:space="preserve">5</text>
<circle cx="1756.4" cy="724.8" r="4.6" fill="none" stroke="#050505" stroke-width="1.4"/>
<path d="M1759.9,721.9 L1798.6,689.6 L1828.2,689.6" fill="none" stroke="#050505" stroke-width="1.4" stroke-linejoin="miter"/>
<text transform="translate(1816.5,677.2) rotate(0)" x="0.0" text-anchor="middle" style="font-family:Liberation Sans, Arial, sans-serif;font-size:33.28px;" fill="#000" textLength="17.8" lengthAdjust="spacingAndGlyphs" xml:space="preserve">2</text>
<line x1="1245.6" y1="856.0" x2="1245.6" y2="939.2" stroke="#000" stroke-width="7.7" stroke-linecap="round"/>
<line x1="1163.8" y1="874.0" x2="1243.0" y2="874.0" stroke="#000" stroke-width="2.6" stroke-linecap="round"/>
<path d="M1220.0,880.0 L1243.0,874.0 L1220.0,868.0" fill="none" stroke="#050505" stroke-width="1.4" stroke-linejoin="miter"/>
<line x1="1163.8" y1="921.9" x2="1243.0" y2="921.9" stroke="#000" stroke-width="2.6" stroke-linecap="round"/>
<path d="M1220.0,927.9 L1243.0,921.9 L1220.0,915.9" fill="none" stroke="#050505" stroke-width="1.4" stroke-linejoin="miter"/>
<text transform="translate(1172.5,865.6) rotate(0) skewX(-15) scale(0.68,1)" text-anchor="start" style="font-family:DejaVu Sans, Liberation Sans, sans-serif;font-weight:200;font-size:46.0px;word-spacing:0.0px" fill="#000" stroke="#000" stroke-width="1.1" xml:space="preserve">A</text>
<text transform="translate(1172.5,962.2) rotate(0) skewX(-15) scale(0.68,1)" text-anchor="start" style="font-family:DejaVu Sans, Liberation Sans, sans-serif;font-weight:200;font-size:46.0px;word-spacing:0.0px" fill="#000" stroke="#000" stroke-width="1.1" xml:space="preserve">A</text>
<path d="M1373.3,606.9 L1367.4,603.7 L1362.5,605.5 L1360.6,610.0 L1364.0,616.2 L1364.0,861.3 L1360.6,867.5 L1362.5,872.0 L1367.4,873.8 L1373.3,870.6 L1656.9,870.6 L1662.8,873.8 L1667.7,872.0 L1669.6,867.5 L1666.2,861.3 L1666.2,616.2 L1669.6,610.0 L1667.7,605.5 L1662.8,603.7 L1656.9,606.9 Z" fill="none" stroke="#000" stroke-width="3.3" stroke-linejoin="round"/>
<line x1="1514.6" y1="606.9" x2="1514.6" y2="953.2" stroke="#050505" stroke-width="1.4" stroke-dasharray="72 23"/>
<line x1="1514.6" y1="798.0" x2="1514.6" y2="953.2" stroke="#050505" stroke-width="1.4"/>
<line x1="1321.3" y1="738.0" x2="1666.2" y2="738.0" stroke="#050505" stroke-width="1.4" stroke-dasharray="127 23.5 82.5 25.5 86 0"/>
<line x1="1332.8" y1="574.4" x2="1332.8" y2="738.0" stroke="#050505" stroke-width="1.4"/>
<path d="M1338.5,601.4 L1332.8,574.4 L1327.1,601.4" fill="none" stroke="#050505" stroke-width="1.4" stroke-linejoin="miter"/>
<path d="M1327.1,711.0 L1332.8,738.0 L1338.5,711.0" fill="none" stroke="#050505" stroke-width="1.4" stroke-linejoin="miter"/>
<text transform="translate(1320.5,658.0) rotate(-90) scale(0.8,1)" text-anchor="middle" style="font-family:DejaVu Sans, Liberation Sans, sans-serif;font-weight:200;font-size:32.0px;word-spacing:0.0px" fill="#000" stroke="#000" stroke-width="0.71" textLength="63.1" lengthAdjust="spacing" xml:space="preserve">305</text>
<line x1="1436.2" y1="606.9" x2="1436.2" y2="870.6" stroke="#050505" stroke-width="1.4"/>
<path d="M1441.9,633.9 L1436.2,606.9 L1430.5,633.9" fill="none" stroke="#050505" stroke-width="1.4" stroke-linejoin="miter"/>
<path d="M1430.5,843.6 L1436.2,870.6 L1441.9,843.6" fill="none" stroke="#050505" stroke-width="1.4" stroke-linejoin="miter"/>
<text transform="translate(1424.0,672.3) rotate(-90) skewX(-15) scale(0.8,1)" text-anchor="middle" style="font-family:DejaVu Sans, Liberation Sans, sans-serif;font-weight:200;font-size:32.9px;word-spacing:0.0px" fill="#000" stroke="#000" stroke-width="0.73" textLength="70.6" lengthAdjust="spacing" xml:space="preserve">490</text>
<line x1="1364.0" y1="834.2" x2="1666.2" y2="834.2" stroke="#050505" stroke-width="1.4"/>
<path d="M1391.0,828.5 L1364.0,834.2 L1391.0,839.9" fill="none" stroke="#050505" stroke-width="1.4" stroke-linejoin="miter"/>
<path d="M1639.2,839.9 L1666.2,834.2 L1639.2,828.5" fill="none" stroke="#050505" stroke-width="1.4" stroke-linejoin="miter"/>
<text transform="translate(1549.5,821.6) rotate(0) skewX(-15) scale(0.8,1)" text-anchor="start" style="font-family:DejaVu Sans, Liberation Sans, sans-serif;font-weight:200;font-size:32.9px;word-spacing:0.0px" fill="#000" stroke="#000" stroke-width="0.73" textLength="68.8" lengthAdjust="spacing" xml:space="preserve">560</text>
<line x1="1490.9" y1="827.0" x2="1490.9" y2="961.2" stroke="#050505" stroke-width="1.4"/>
<path d="M1485.2,843.6 L1490.9,870.6 L1496.6,843.6" fill="none" stroke="#050505" stroke-width="1.4" stroke-linejoin="miter"/>
<path d="M1496.6,924.4 L1490.9,897.4 L1485.2,924.4" fill="none" stroke="#050505" stroke-width="1.4" stroke-linejoin="miter"/>
<line x1="1479.0" y1="897.4" x2="1514.6" y2="897.4" stroke="#000" stroke-width="1.3"/>
<text transform="translate(1478.0,944.8) rotate(-90) scale(0.8,1)" text-anchor="middle" style="font-family:DejaVu Sans, Liberation Sans, sans-serif;font-weight:200;font-size:31.6px;word-spacing:0.0px" fill="#000" stroke="#000" stroke-width="0.71" textLength="39.4" lengthAdjust="spacing" xml:space="preserve">50</text>
<line x1="1756.4" y1="897.4" x2="1756.4" y2="953.2" stroke="#050505" stroke-width="1.4"/>
<line x1="1514.6" y1="941.8" x2="1756.4" y2="941.8" stroke="#050505" stroke-width="1.4"/>
<path d="M1541.6,936.1 L1514.6,941.8 L1541.6,947.5" fill="none" stroke="#050505" stroke-width="1.4" stroke-linejoin="miter"/>
<path d="M1729.4,947.5 L1756.4,941.8 L1729.4,936.1" fill="none" stroke="#050505" stroke-width="1.4" stroke-linejoin="miter"/>
<text transform="translate(1607.0,929.1) rotate(0) scale(0.8,1)" text-anchor="start" style="font-family:DejaVu Sans, Liberation Sans, sans-serif;font-weight:200;font-size:32.2px;word-spacing:0.0px" fill="#000" stroke="#000" stroke-width="0.72" textLength="68.4" lengthAdjust="spacing" xml:space="preserve">450</text>
<line x1="1756.4" y1="574.4" x2="1925.4" y2="574.4" stroke="#050505" stroke-width="1.4"/>
<line x1="1756.4" y1="897.4" x2="1925.4" y2="897.4" stroke="#050505" stroke-width="1.4"/>
<line x1="1850.9" y1="574.4" x2="1850.9" y2="875.2" stroke="#050505" stroke-width="1.4"/>
<path d="M1856.6,601.4 L1850.9,574.4 L1845.2,601.4" fill="none" stroke="#050505" stroke-width="1.4" stroke-linejoin="miter"/>
<path d="M1845.2,848.2 L1850.9,875.2 L1856.6,848.2" fill="none" stroke="#050505" stroke-width="1.4" stroke-linejoin="miter"/>
<line x1="1914.3" y1="574.4" x2="1914.3" y2="897.4" stroke="#050505" stroke-width="1.4"/>
<path d="M1920.0,601.4 L1914.3,574.4 L1908.6,601.4" fill="none" stroke="#050505" stroke-width="1.4" stroke-linejoin="miter"/>
<path d="M1908.6,870.4 L1914.3,897.4 L1920.0,870.4" fill="none" stroke="#050505" stroke-width="1.4" stroke-linejoin="miter"/>
<line x1="1828.9" y1="832.0" x2="1828.9" y2="961.6" stroke="#050505" stroke-width="1.4"/>
<path d="M1823.2,848.2 L1828.9,875.2 L1834.6,848.2" fill="none" stroke="#050505" stroke-width="1.4" stroke-linejoin="miter"/>
<path d="M1834.6,924.4 L1828.9,897.4 L1823.2,924.4" fill="none" stroke="#050505" stroke-width="1.4" stroke-linejoin="miter"/>
<text transform="translate(1816.4,944.5) rotate(-90)" x="0.0" text-anchor="middle" style="font-family:Liberation Sans, Arial, sans-serif;font-size:35.36px;" fill="#000" textLength="37.8" lengthAdjust="spacingAndGlyphs" xml:space="preserve">40</text>
<text transform="translate(1839.0,727.2) rotate(-90)" x="0.0" text-anchor="middle" style="font-family:Liberation Sans, Arial, sans-serif;font-size:34.84px;" fill="#000" textLength="55.9" lengthAdjust="spacingAndGlyphs" xml:space="preserve">560</text>
<text transform="translate(1901.0,740.2) rotate(-90)" x="0.0" text-anchor="middle" style="font-family:Liberation Sans, Arial, sans-serif;font-size:55.64px;" fill="#000" textLength="89.3" lengthAdjust="spacingAndGlyphs" xml:space="preserve">600</text>
<line x1="1514.6" y1="738.0" x2="1607.0" y2="1079.9" stroke="#050505" stroke-width="1.4"/>
<line x1="1607.0" y1="1079.9" x2="2069.3" y2="1079.9" stroke="#050505" stroke-width="1.4"/>
<path d="M1527.1,762.6 L1514.6,738.0 L1516.1,765.6" fill="none" stroke="#050505" stroke-width="1.4" stroke-linejoin="miter"/>
<text transform="translate(1619.2,1067.5) rotate(0) scale(0.7,1)" text-anchor="start" style="font-family:DejaVu Sans, Liberation Sans, sans-serif;font-weight:200;font-size:32.0px;word-spacing:14.3px" fill="#000" stroke="#000" stroke-width="0.71" textLength="644.3" lengthAdjust="spacing" xml:space="preserve">вырез под варку обычный</text>
<text transform="translate(1728.2,1115.5) rotate(0) scale(0.7,1)" text-anchor="start" style="font-family:DejaVu Sans, Liberation Sans, sans-serif;font-weight:200;font-size:32.0px;word-spacing:14.3px" fill="#000" stroke="#000" stroke-width="0.71" textLength="327.9" lengthAdjust="spacing" xml:space="preserve">не заподлицо</text>
<text transform="translate(1676.4,267.4) rotate(0)" x="-1.4" text-anchor="start" style="font-family:Liberation Sans, Arial, sans-serif;font-size:49.24px;font-style:italic;" fill="#000" textLength="1039.4" lengthAdjust="spacingAndGlyphs" xml:space="preserve">HI-MACS Marmo M601_7 Marmo 055HM (M0S0)</text>
<rect x="2794.2" y="231.5" width="491.2" height="127.4" rx="1.5" fill="none" stroke="#6b3535" stroke-width="10.6"/>
<text transform="translate(2907.7,330.1) rotate(0)" x="-6.6" text-anchor="start" style="font-family:Liberation Sans, Arial, sans-serif;font-size:85.87px;" fill="#000" textLength="271.8" lengthAdjust="spacingAndGlyphs" xml:space="preserve">Глянец</text>
<text transform="translate(2835.2,441.8) rotate(0)" x="-3.9" text-anchor="start" style="font-family:Liberation Sans, Arial, sans-serif;font-size:50.69px;" fill="#000" textLength="389.7" lengthAdjust="spacingAndGlyphs" xml:space="preserve">Кол-во черт: 1шт.</text>
<text transform="translate(2376.2,570.8) rotate(0)" x="-2.4" text-anchor="start" style="font-family:Liberation Sans, Arial, sans-serif;font-size:49.64px;" fill="#000" textLength="382.2" lengthAdjust="spacingAndGlyphs" xml:space="preserve">Стеновая панель</text>
<text transform="translate(2381.0,635.6) rotate(0)" x="-4.3" text-anchor="start" style="font-family:Liberation Sans, Arial, sans-serif;font-size:49.58px;" fill="#000" textLength="317.4" lengthAdjust="spacingAndGlyphs" xml:space="preserve">I-2122x350 мм</text>
<text transform="translate(1326.3,1554.9) rotate(0)" x="-4.3" text-anchor="start" style="font-family:Liberation Sans, Arial, sans-serif;font-size:56.06px;" fill="#000" textLength="1256.2" lengthAdjust="spacingAndGlyphs" xml:space="preserve">Изготавливаемая столешница толщиной H=40 мм</text>
<text transform="translate(1353.8,1624.6) rotate(0)" x="-4.0" text-anchor="start" style="font-family:Liberation Sans, Arial, sans-serif;font-size:55.34px;" fill="#000" textLength="373.9" lengthAdjust="spacingAndGlyphs" xml:space="preserve">1- Кромка №04</text>
<text transform="translate(1352.0,1681.4) rotate(0)" x="-2.7" text-anchor="start" style="font-family:Liberation Sans, Arial, sans-serif;font-size:55.67px;" fill="#000" textLength="346.4" lengthAdjust="spacingAndGlyphs" xml:space="preserve">2- Кромка №7</text>
<text transform="translate(1352.0,1730.9) rotate(0)" x="-2.1" text-anchor="start" style="font-family:Liberation Sans, Arial, sans-serif;font-size:55.36px;" fill="#000" textLength="657.8" lengthAdjust="spacingAndGlyphs" xml:space="preserve">3- Место склейки по месту</text>
<text transform="translate(1353.8,1791.8) rotate(0)" x="-1.1" text-anchor="start" style="font-family:Liberation Sans, Arial, sans-serif;font-size:55.56px;" fill="#000" textLength="1326.2" lengthAdjust="spacingAndGlyphs" xml:space="preserve">4- Мойка BLANCO 526117 SOLIS 400-U (вклейка 2-N)</text>
<text transform="translate(1360.0,1856.3) rotate(0)" x="-2.1" text-anchor="start" style="font-family:Liberation Sans, Arial, sans-serif;font-size:55.64px;" fill="#000" textLength="948.4" lengthAdjust="spacingAndGlyphs" xml:space="preserve">5- Вырез под в/п BOSCH PIE675DC1E</text>
<text transform="translate(1360.0,1918.3) rotate(0)" x="-2.7" text-anchor="start" style="font-family:Liberation Sans, Arial, sans-serif;font-size:55.46px;" fill="#000" textLength="999.7" lengthAdjust="spacingAndGlyphs" xml:space="preserve">6-  Канавка для стока воды Вариант №1</text>
<text transform="translate(1938.1,2333.1) rotate(0)" x="-0.7" text-anchor="start" style="font-family:Liberation Sans, Arial, sans-serif;font-size:48.98px;font-style:italic;" fill="#000" textLength="359.0" lengthAdjust="spacingAndGlyphs" xml:space="preserve">короб - 1 шт (К)</text>
<text transform="translate(2821.0,966.2) rotate(0) skewX(-15) scale(0.68,1)" text-anchor="start" style="font-family:DejaVu Sans, Liberation Sans, sans-serif;font-weight:200;font-size:51.6px;word-spacing:0.0px" fill="#000" stroke="#000" stroke-width="1.2" textLength="108.8" lengthAdjust="spacing" xml:space="preserve">A-A</text>
<defs>
<clipPath id="cs"><path d="M2666.9,991.0 L2978.0,991.0 L2978.0,1004.0 L2986.0,1007.6 L2989.1,1015.7 L2991.5,1025.5 L2999.5,1034.8 L3011.2,1037.8 L3011.2,1117.3 L2999.5,1119.8 L2991.5,1127.8 L2989.1,1137.6 L2986.0,1146.9 L2977.4,1150.6 L2977.4,1163.1 L2944.7,1163.1 L2942.3,1153.6 A21,21 0 0 0 2907.5,1153.6 L2905.9,1163.1 L2666.9,1163.1 Z M2666.9,1042.8 L2959.7,1042.8 L2959.7,1111.1 L2753,1111.1 L2753,1163.1 L2666.9,1163.1 Z" clip-rule="evenodd"/></clipPath>
<clipPath id="cw"><path d="M2666.9,1042.8 L2959.7,1042.8 L2959.7,1111.1 L2753,1111.1 L2753,1163.1 L2666.9,1163.1 Z"/></clipPath>
</defs>
<g clip-path="url(#cs)">
<line x1="2646.9" y1="731.0" x2="3030.0" y2="952.2" stroke="#111" stroke-width="1.2" stroke-dasharray="15 13.5" stroke-dashoffset="0.0"/>
<line x1="2646.9" y1="745.8" x2="3030.0" y2="967.0" stroke="#111" stroke-width="1.2" stroke-dasharray="15 13.5" stroke-dashoffset="11.3"/>
<line x1="2646.9" y1="760.6" x2="3030.0" y2="981.8" stroke="#111" stroke-width="1.2" stroke-dasharray="15 13.5" stroke-dashoffset="22.6"/>
<line x1="2646.9" y1="775.4" x2="3030.0" y2="996.6" stroke="#111" stroke-width="1.2" stroke-dasharray="15 13.5" stroke-dashoffset="5.4"/>
<line x1="2646.9" y1="790.2" x2="3030.0" y2="1011.4" stroke="#111" stroke-width="1.2" stroke-dasharray="15 13.5" stroke-dashoffset="16.7"/>
<line x1="2646.9" y1="805.0" x2="3030.0" y2="1026.2" stroke="#111" stroke-width="1.2" stroke-dasharray="15 13.5" stroke-dashoffset="28.0"/>
<line x1="2646.9" y1="819.8" x2="3030.0" y2="1041.0" stroke="#111" stroke-width="1.2" stroke-dasharray="15 13.5" stroke-dashoffset="10.8"/>
<line x1="2646.9" y1="834.6" x2="3030.0" y2="1055.8" stroke="#111" stroke-width="1.2" stroke-dasharray="15 13.5" stroke-dashoffset="22.1"/>
<line x1="2646.9" y1="849.4" x2="3030.0" y2="1070.6" stroke="#111" stroke-width="1.2" stroke-dasharray="15 13.5" stroke-dashoffset="4.9"/>
<line x1="2646.9" y1="864.2" x2="3030.0" y2="1085.4" stroke="#111" stroke-width="1.2" stroke-dasharray="15 13.5" stroke-dashoffset="16.2"/>
<line x1="2646.9" y1="879.0" x2="3030.0" y2="1100.2" stroke="#111" stroke-width="1.2" stroke-dasharray="15 13.5" stroke-dashoffset="27.5"/>
<line x1="2646.9" y1="893.8" x2="3030.0" y2="1115.0" stroke="#111" stroke-width="1.2" stroke-dasharray="15 13.5" stroke-dashoffset="10.3"/>
<line x1="2646.9" y1="908.6" x2="3030.0" y2="1129.8" stroke="#111" stroke-width="1.2" stroke-dasharray="15 13.5" stroke-dashoffset="21.6"/>
<line x1="2646.9" y1="923.4" x2="3030.0" y2="1144.6" stroke="#111" stroke-width="1.2" stroke-dasharray="15 13.5" stroke-dashoffset="4.4"/>
<line x1="2646.9" y1="938.2" x2="3030.0" y2="1159.4" stroke="#111" stroke-width="1.2" stroke-dasharray="15 13.5" stroke-dashoffset="15.7"/>
<line x1="2646.9" y1="953.0" x2="3030.0" y2="1174.2" stroke="#111" stroke-width="1.2" stroke-dasharray="15 13.5" stroke-dashoffset="27.0"/>
<line x1="2646.9" y1="967.8" x2="3030.0" y2="1189.0" stroke="#111" stroke-width="1.2" stroke-dasharray="15 13.5" stroke-dashoffset="9.8"/>
<line x1="2646.9" y1="982.6" x2="3030.0" y2="1203.8" stroke="#111" stroke-width="1.2" stroke-dasharray="15 13.5" stroke-dashoffset="21.1"/>
<line x1="2646.9" y1="997.4" x2="3030.0" y2="1218.6" stroke="#111" stroke-width="1.2" stroke-dasharray="15 13.5" stroke-dashoffset="3.9"/>
<line x1="2646.9" y1="1012.2" x2="3030.0" y2="1233.4" stroke="#111" stroke-width="1.2" stroke-dasharray="15 13.5" stroke-dashoffset="15.2"/>
<line x1="2646.9" y1="1027.0" x2="3030.0" y2="1248.2" stroke="#111" stroke-width="1.2" stroke-dasharray="15 13.5" stroke-dashoffset="26.5"/>
<line x1="2646.9" y1="1041.8" x2="3030.0" y2="1263.0" stroke="#111" stroke-width="1.2" stroke-dasharray="15 13.5" stroke-dashoffset="9.3"/>
<line x1="2646.9" y1="1056.6" x2="3030.0" y2="1277.8" stroke="#111" stroke-width="1.2" stroke-dasharray="15 13.5" stroke-dashoffset="20.6"/>
<line x1="2646.9" y1="1071.4" x2="3030.0" y2="1292.6" stroke="#111" stroke-width="1.2" stroke-dasharray="15 13.5" stroke-dashoffset="3.4"/>
<line x1="2646.9" y1="1086.2" x2="3030.0" y2="1307.4" stroke="#111" stroke-width="1.2" stroke-dasharray="15 13.5" stroke-dashoffset="14.7"/>
<line x1="2646.9" y1="1101.0" x2="3030.0" y2="1322.2" stroke="#111" stroke-width="1.2" stroke-dasharray="15 13.5" stroke-dashoffset="26.0"/>
<line x1="2646.9" y1="1115.8" x2="3030.0" y2="1337.0" stroke="#111" stroke-width="1.2" stroke-dasharray="15 13.5" stroke-dashoffset="8.8"/>
<line x1="2646.9" y1="1130.6" x2="3030.0" y2="1351.8" stroke="#111" stroke-width="1.2" stroke-dasharray="15 13.5" stroke-dashoffset="20.1"/>
<line x1="2646.9" y1="1145.4" x2="3030.0" y2="1366.6" stroke="#111" stroke-width="1.2" stroke-dasharray="15 13.5" stroke-dashoffset="2.9"/>
<line x1="2646.9" y1="1160.2" x2="3030.0" y2="1381.4" stroke="#111" stroke-width="1.2" stroke-dasharray="15 13.5" stroke-dashoffset="14.2"/>
<line x1="2646.9" y1="1175.0" x2="3030.0" y2="1396.2" stroke="#111" stroke-width="1.2" stroke-dasharray="15 13.5" stroke-dashoffset="25.5"/>
</g>
<g clip-path="url(#cw)" fill="none" stroke="#111" stroke-width="1.2">
<path d="M2667.4,1066.8 C2668.4,1064.8 2670.2,1058.5 2673.0,1055.1 C2675.7,1051.7 2680.2,1048.4 2684.1,1046.5 C2688.0,1044.5 2694.3,1043.9 2696.4,1043.4"/>
<path d="M2667.4,1084.6 C2669.8,1082.0 2676.4,1073.4 2681.6,1068.6 C2686.8,1063.9 2692.5,1059.8 2698.8,1056.3 C2705.2,1052.8 2712.8,1049.9 2719.8,1047.7 C2726.8,1045.5 2737.2,1043.8 2740.7,1043.0"/>
<path d="M2667.4,1102.5 C2671.2,1099.2 2682.1,1088.9 2690.2,1082.8 C2698.3,1076.7 2707.3,1071.2 2716.1,1066.2 C2724.9,1061.1 2734.2,1056.4 2743.2,1052.6 C2752.2,1048.8 2765.8,1044.9 2770.3,1043.4"/>
<path d="M2667.4,1121.6 C2672.7,1117.5 2688.3,1104.6 2698.8,1097.0 C2709.4,1089.4 2719.4,1082.7 2730.9,1076.0 C2742.4,1069.3 2755.5,1062.4 2767.8,1056.9 C2780.2,1051.5 2798.6,1045.6 2804.8,1043.4"/>
<path d="M2667.4,1140.1 C2673.9,1135.2 2692.8,1119.9 2706.2,1110.5 C2719.7,1101.2 2733.8,1092.2 2748.1,1084.0 C2762.5,1075.8 2777.7,1068.0 2792.5,1061.2 C2807.3,1054.5 2829.4,1046.4 2836.8,1043.4"/>
<path d="M2667.4,1159.8 C2675.1,1153.9 2697.7,1135.7 2713.6,1124.7 C2729.5,1113.7 2746.5,1103.0 2762.9,1093.9 C2779.3,1084.7 2796.0,1077.7 2812.2,1069.9 C2828.4,1062.1 2845.2,1053.2 2860.0,1047.1 C2874.8,1040.9 2894.1,1035.3 2900.9,1032.9"/>
<path d="M2692.7,1164.7 C2694.5,1162.3 2699.5,1154.3 2703.8,1149.9 C2708.1,1145.6 2713.2,1141.9 2718.6,1138.9 C2723.9,1135.8 2729.9,1133.4 2735.8,1131.7 C2741.8,1130.0 2751.2,1129.2 2754.3,1128.8"/>
<path d="M2725.3,1164.7 C2725.7,1163.1 2726.2,1157.7 2727.8,1154.9 C2729.4,1152.0 2732.5,1149.1 2735.2,1147.5 C2737.9,1145.8 2740.6,1145.1 2743.8,1145.0 C2747.0,1144.9 2752.5,1146.6 2754.3,1146.9"/>
<path d="M2780.1,1113.6 C2784.8,1109.5 2798.5,1096.5 2808.5,1089.0 C2818.4,1081.5 2829.8,1074.5 2840.0,1068.6 C2850.2,1062.8 2859.7,1058.1 2869.6,1053.8 C2879.4,1049.6 2894.2,1045.1 2899.1,1043.4"/>
<path d="M2812.2,1113.6 C2816.8,1109.7 2830.4,1097.5 2840.0,1090.2 C2849.6,1082.9 2859.3,1075.9 2869.6,1069.9 C2879.8,1063.8 2891.1,1058.3 2901.6,1053.8 C2912.1,1049.4 2927.3,1045.1 2932.4,1043.4"/>
<path d="M2844.9,1113.0 C2849.4,1109.1 2863.0,1096.6 2872.0,1089.6 C2881.1,1082.6 2889.7,1076.6 2899.1,1071.1 C2908.6,1065.6 2918.4,1060.5 2928.7,1056.3 C2939.0,1052.2 2955.4,1047.9 2960.7,1046.2"/>
<path d="M2877.0,1113.0 C2880.0,1109.9 2889.1,1099.9 2895.4,1094.5 C2901.8,1089.1 2908.2,1084.3 2915.2,1080.3 C2922.1,1076.3 2929.7,1073.0 2937.3,1070.5 C2944.9,1067.9 2956.8,1065.9 2960.7,1064.9"/>
<path d="M2910.8,1113.0 C2912.2,1110.7 2915.5,1103.3 2918.8,1099.4 C2922.2,1095.5 2926.8,1092.0 2931.2,1089.6 C2935.6,1087.1 2940.4,1085.7 2945.3,1084.6 C2950.3,1083.6 2958.2,1083.4 2960.7,1083.2"/>
<path d="M2943.7,1113.0 C2943.6,1111.6 2942.3,1107.2 2942.9,1105.0 C2943.4,1102.7 2945.4,1100.6 2947.2,1099.4 C2948.9,1098.3 2951.2,1097.6 2953.3,1098.2 C2955.5,1098.8 2959.0,1102.3 2960.1,1103.1"/>
</g>
<path d="M2666.9,991.0 L2978.0,991.0 L2978.0,1004.0 L2986.0,1007.6 L2989.1,1015.7 L2991.5,1025.5 L2999.5,1034.8 L3011.2,1037.8 L3011.2,1117.3 L2999.5,1119.8 L2991.5,1127.8 L2989.1,1137.6 L2986.0,1146.9 L2977.4,1150.6 L2977.4,1163.1 L2944.7,1163.1 L2942.3,1153.6 A21,21 0 0 0 2907.5,1153.6 L2905.9,1163.1 L2666.9,1163.1" fill="none" stroke="#000" stroke-width="3.3" stroke-linejoin="round" stroke-linecap="round" />
<path d="M2666.9,1042.8 L2959.7,1042.8 L2959.7,1111.1 L2753,1111.1 L2753,1163.1" fill="none" stroke="#000" stroke-width="3.3" stroke-linejoin="miter" stroke-linecap="round" />
<path d="M2666.9,991.0 L2666.9,1052.3 L2700.5,1062.9 L2633.0,1080.9 L2666.9,1089.9 L2666.9,1163.1" fill="none" stroke="#050505" stroke-width="1.3" stroke-linejoin="miter"/>
<line x1="2978.0" y1="991.0" x2="3075.4" y2="991.0" stroke="#555" stroke-width="1.4"/>
<line x1="2977.4" y1="1163.1" x2="3075.4" y2="1163.1" stroke="#050505" stroke-width="1.4"/>
<line x1="3064.6" y1="991.0" x2="3064.6" y2="1163.1" stroke="#050505" stroke-width="1.3"/>
<path d="M3067.2,1011.0 L3064.6,991.0 L3062.0,1011.0" fill="none" stroke="#050505" stroke-width="1.4" stroke-linejoin="miter"/>
<path d="M3062.0,1143.1 L3064.6,1163.1 L3067.2,1143.1" fill="none" stroke="#050505" stroke-width="1.4" stroke-linejoin="miter"/>
<text transform="translate(3051.7,1078.0) rotate(-90) skewX(-15) scale(0.75,1)" text-anchor="middle" style="font-family:DejaVu Sans, Liberation Sans, sans-serif;font-weight:200;font-size:33.7px;word-spacing:0.0px" fill="#000" stroke="#000" stroke-width="0.9" xml:space="preserve">H</text>
<line x1="2977.4" y1="1163.1" x2="2977.4" y2="1216.6" stroke="#050505" stroke-width="1.4"/>
<line x1="3011.3" y1="1117.3" x2="3011.3" y2="1304.5" stroke="#050505" stroke-width="1.4"/>
<line x1="2934.2" y1="1205.4" x2="3056.8" y2="1205.4" stroke="#050505" stroke-width="1.4"/>
<path d="M2951.7,1211.4 L2977.4,1205.4 L2951.7,1199.4" fill="none" stroke="#050505" stroke-width="1.4" stroke-linejoin="miter"/>
<path d="M3037.0,1199.4 L3011.3,1205.4 L3037.0,1211.4" fill="none" stroke="#050505" stroke-width="1.4" stroke-linejoin="miter"/>
<text transform="translate(3039.0,1192.7) rotate(0) scale(0.75,1)" text-anchor="start" style="font-family:DejaVu Sans, Liberation Sans, sans-serif;font-weight:200;font-size:31.6px;word-spacing:0.0px" fill="#000" stroke="#000" stroke-width="0.71" xml:space="preserve">8</text>
<line x1="2925.2" y1="1143.6" x2="2925.2" y2="1256.3" stroke="#050505" stroke-width="1.4"/>
<line x1="2925.2" y1="1245.2" x2="3011.3" y2="1245.2" stroke="#050505" stroke-width="1.4"/>
<path d="M2952.2,1239.5 L2925.2,1245.2 L2952.2,1250.9" fill="none" stroke="#050505" stroke-width="1.4" stroke-linejoin="miter"/>
<path d="M2984.3,1250.9 L3011.3,1245.2 L2984.3,1239.5" fill="none" stroke="#050505" stroke-width="1.4" stroke-linejoin="miter"/>
<text transform="translate(2956.2,1233.8) rotate(0) skewX(-15) scale(0.8,1)" text-anchor="start" style="font-family:DejaVu Sans, Liberation Sans, sans-serif;font-weight:200;font-size:22.9px;word-spacing:0.0px" fill="#000" stroke="#000" stroke-width="0.57" textLength="33.0" lengthAdjust="spacing" xml:space="preserve">20</text>
<line x1="2753.0" y1="1163.1" x2="2753.0" y2="1304.5" stroke="#050505" stroke-width="1.4"/>
<line x1="2753.0" y1="1293.4" x2="3011.3" y2="1293.4" stroke="#050505" stroke-width="1.4"/>
<path d="M2780.0,1287.7 L2753.0,1293.4 L2780.0,1299.1" fill="none" stroke="#050505" stroke-width="1.4" stroke-linejoin="miter"/>
<path d="M2984.3,1299.1 L3011.3,1293.4 L2984.3,1287.7" fill="none" stroke="#050505" stroke-width="1.4" stroke-linejoin="miter"/>
<text transform="translate(2866.1,1280.7) rotate(0) skewX(-15) scale(0.8,1)" text-anchor="start" style="font-family:DejaVu Sans, Liberation Sans, sans-serif;font-weight:200;font-size:31.6px;word-spacing:0.0px" fill="#000" stroke="#000" stroke-width="0.71" textLength="46.2" lengthAdjust="spacing" xml:space="preserve">60</text>
</svg>
</body></html>
